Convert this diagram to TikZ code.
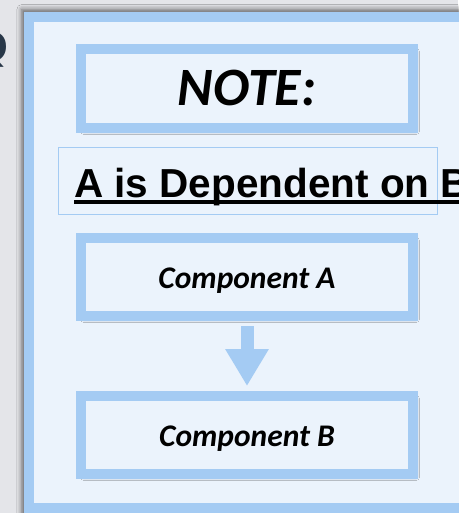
\documentclass[tikz,border=0pt]{standalone}
\usepackage{fontspec}
\setmainfont{Carlito}
\newfontfamily\arialfont{Liberation Sans}
\newfontfamily\glyphfont{DejaVu Sans}
\usetikzlibrary{shadows.blur,arrows.meta,calc}
\definecolor{bgray}{RGB}{228,229,233}
\definecolor{pfill}{RGB}{235,243,252}
\definecolor{pborder}{RGB}{164,203,243}
\definecolor{navy}{RGB}{40,55,72}
\begin{document}
\begin{tikzpicture}[x=1pt,y=-1pt,
  panelbox/.style={draw=pborder, line width=10pt, fill=pfill, inner sep=0pt,
    blur shadow={shadow xshift=0pt, shadow yshift=0pt, shadow scale=1.03, shadow blur radius=5pt, shadow opacity=60}},
  bluebox/.style={draw=pborder, line width=10pt, fill=pfill, inner sep=0pt,
    minimum width=332pt, text depth=0pt,
    blur shadow={shadow xshift=3pt, shadow yshift=-3pt, shadow blur radius=3.5pt, shadow opacity=40}},
  compbox/.style={bluebox, minimum height=78pt, text height=22pt, font=\bfseries\itshape\fontsize{31.5}{36}\selectfont},
  notebox/.style={bluebox, minimum height=79pt, text height=35pt, font=\bfseries\itshape\fontsize{54}{60}\selectfont},
  textframe/.style={draw=pborder, line width=1pt, fill=pfill, inner sep=0pt, minimum width=379pt, minimum height=66pt},
  deptext/.style={inner sep=0pt, font=\arialfont\bfseries\fontsize{40.5}{48}\selectfont},
  bigarrow/.style={draw=pborder, line width=13pt, -{Triangle[width=41pt,length=37pt]}, shorten >=5pt, shorten <=5pt},
]
\useasboundingbox (0,0) rectangle (458,513);
\fill[bgray] (0,0) rectangle (458,513);
% clipped glyph at the left edge
\node[inner sep=0pt, anchor=base east, text=navy, font=\glyphfont\bfseries\fontsize{40}{48}\selectfont] (glyph) at (9,62) {Q};
% container panel
\node[panelbox, minimum width=471pt, minimum height=491pt] (panel) at (264.5,262.5) {};
% note title
\node[notebox] (note) at (247,88.5) {NOTE:};
% dependency statement
\node[textframe] (frame) at (247.5,181) {};
\node[deptext, anchor=base west] (dep) at (74,197) {A is Dependent on B};
\draw[line width=3.5pt, black] ($(dep.base west)+(0,5)$) -- ($(dep.base east)+(0,5)$);
% components
\node[compbox] (ca) at (247,277) {Component A};
\node[compbox] (cb) at (247,435) {Component B};
\draw[bigarrow] (ca.south) -- (cb.north);
\end{tikzpicture}
\end{document}
